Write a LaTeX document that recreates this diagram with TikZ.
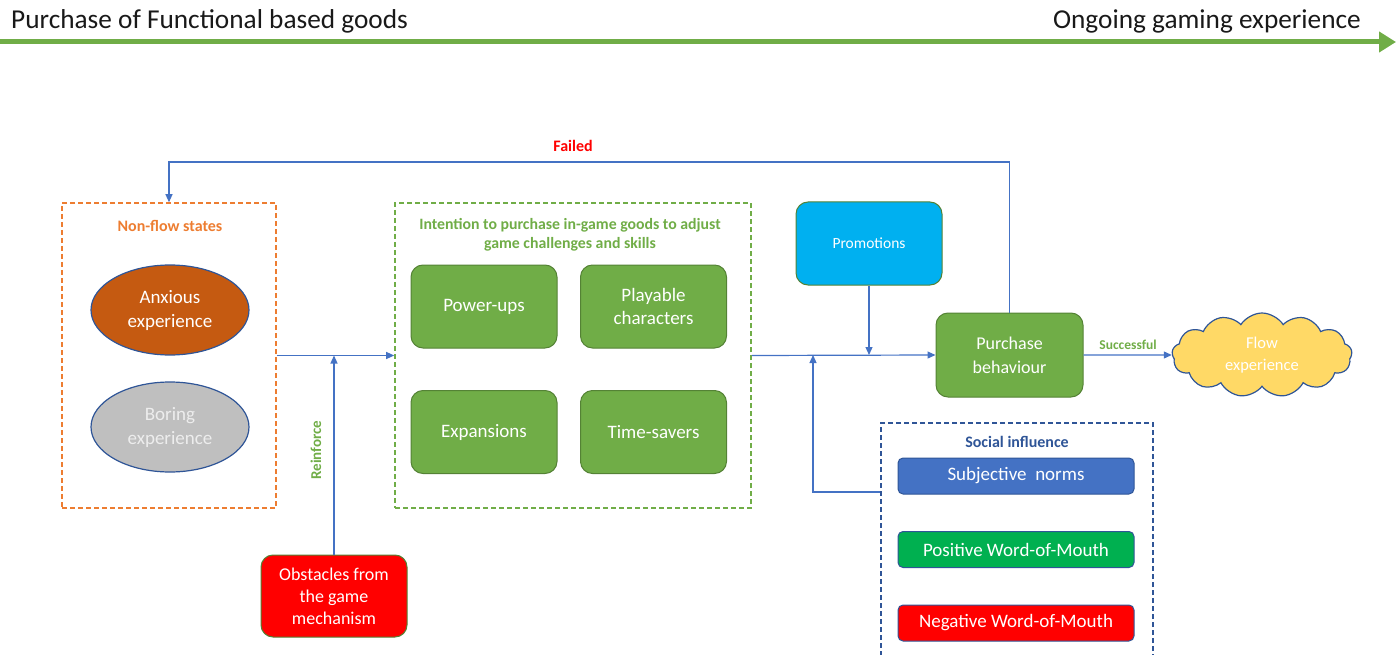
\documentclass[tikz,border=0pt]{standalone}
\usepackage{fontspec}
\setmainfont{Carlito}
\usetikzlibrary{arrows.meta,shapes.geometric,shapes.symbols}
\definecolor{cgreen}{HTML}{70AD47}
\definecolor{gborder}{HTML}{548235}
\definecolor{corange}{HTML}{ED7D31}
\definecolor{cdblue}{HTML}{2F5597}
\definecolor{cconn}{HTML}{4472C4}
\definecolor{canx}{HTML}{C55A11}
\definecolor{cgray}{HTML}{BFBFBF}
\definecolor{ccyan}{HTML}{00B0F0}
\definecolor{cyellow}{HTML}{FFD966}
\definecolor{cpos}{HTML}{00B050}
\definecolor{cneg}{HTML}{FF0000}
\newcommand{\fs}[2]{\fontsize{#1}{#2}\selectfont}
\begin{document}
\begin{tikzpicture}[x=1pt,y=-1pt,
  cont/.style={draw, line width=1.6pt, dash pattern=on 5pt off 3pt, inner sep=0pt, fill=none},
  gbox/.style={rectangle, rounded corners=12pt, fill=cgreen, draw=gborder, line width=1pt, text=white, align=center, minimum width=146pt, minimum height=83pt, inner sep=2pt, font=\fs{19}{23}},
  ell/.style={ellipse, draw=cdblue, line width=1.2pt, minimum width=158pt, minimum height=90pt, inner sep=0pt, align=center, font=\fs{19}{24}},
  sbox/.style={rectangle, rounded corners=5pt, draw=cdblue, line width=1pt, text=white, minimum width=236pt, minimum height=36pt, inner sep=0pt, font=\fs{19}{22}},
  lbl/.style={font=\bfseries\fs{16}{19}, align=center, inner sep=1pt},
  conn/.style={draw=cconn, line width=1.2pt, -{Triangle[length=8pt,width=7pt]}},
]
\useasboundingbox (0,0) rectangle (1400,655);
\clip (0,0) rectangle (1400,655);

% top timeline
\node[anchor=west, font=\fs{27.3}{32}, text=black!90, inner sep=0pt] (tl) at (11,21) {Purchase of Functional based goods};
\node[anchor=east, font=\fs{27.3}{32}, text=black!90, inner sep=0pt] (tr) at (1361,21) {Ongoing gaming experience};
\coordinate (as) at (0,42);
\coordinate (ae) at (1396,42);
\draw[cgreen, line width=5pt, -{Triangle[length=17pt,width=20pt]}] (as) -- (ae);

% containers
\node[cont, draw=corange, minimum width=214pt, minimum height=305pt] (nf) at (169,355.5) {};
\node[cont, draw=cgreen, minimum width=356pt, minimum height=305pt] (it) at (573,355.5) {};
\node[cont, draw=cdblue, minimum width=272pt, minimum height=260pt] (si) at (1017,553) {};

\node[lbl, text=corange] (nft) at (170,226) {Non-flow states};
\node[lbl, text=cgreen, font=\bfseries\fs{15.8}{19}] (itt) at (570,235) {Intention to purchase in-game goods to adjust\\game challenges and skills};
\node[lbl, text=cdblue] (sit) at (1017,442) {Social influence};

% ellipses
\node[ell, fill=canx, text=white] (anx) at (170,310) {Anxious\\experience};
\node[ell, fill=cgray, text=white!93!black] (bor) at (170,427) {Boring\\experience};

% goods
\node[gbox] (pu) at (484,306.5) {Power-ups};
\node[gbox] (pc) at (653.5,306.5) {Playable\\characters};
\node[gbox] (ex) at (484,432) {Expansions};
\node[gbox] (ts) at (653.5,432) {Time-savers};

% obstacles
\node[gbox, fill=cneg, font=\fs{18}{22}, minimum height=82pt] (ob) at (334,596) {Obstacles from\\the game\\mechanism};

% promotions, purchase
\node[gbox, fill=ccyan, draw=gborder, font=\fs{15.5}{19}] (pr) at (869,243.5) {Promotions};
\node[gbox, font=\fs{18}{24}, minimum width=147pt, minimum height=84pt] (pb) at (1009.5,355) {Purchase\\behaviour};

% cloud
\node[cloud, cloud puffs=13, cloud puff arc=115, aspect=2.1, fill=cyellow, draw=cdblue, line width=1.2pt, minimum width=180pt, minimum height=84pt, text=white, align=center, font=\fs{16.5}{22}, inner sep=0pt] (fx) at (1262,355) {Flow\\experience};

% social items
\node[sbox, fill=cconn] (sn) at (1016,476) {Subjective\ \ norms};
\node[sbox, fill=cpos] (pw) at (1016,549.5) {Positive Word-of-Mouth};
\node[sbox, fill=cneg] (nw) at (1016,623) {Negative Word-of-Mouth};

% connectors
\draw[conn] (nf.east) -- (it.west);
\draw[conn] (ob.north) -- (ob.north |- nf.east);
\node[lbl, text=cgreen, rotate=90, font=\bfseries\fs{15}{19}] (rf) at (316,450) {Reinforce};
\draw[conn] (it.east) -- (pb.west);
\draw[conn] (pr.south) -- (pr.south |- pb.west);
\coordinate (sij) at (813,492);
\draw[conn] (si.west |- sij) -- (sij) -- (sij |- pb.west);
\coordinate (f2) at (169,162);
\draw[conn] (pb.north) |- (f2) -- (nf.north);
\node[lbl, text=cneg] (fl) at (573,146) {Failed};
\draw[conn] (pb.east) -- (fx.west);
\node[lbl, text=cgreen, font=\bfseries\fs{13.5}{16}] (sc) at (1128,345) {Successful};
\end{tikzpicture}
\end{document}
